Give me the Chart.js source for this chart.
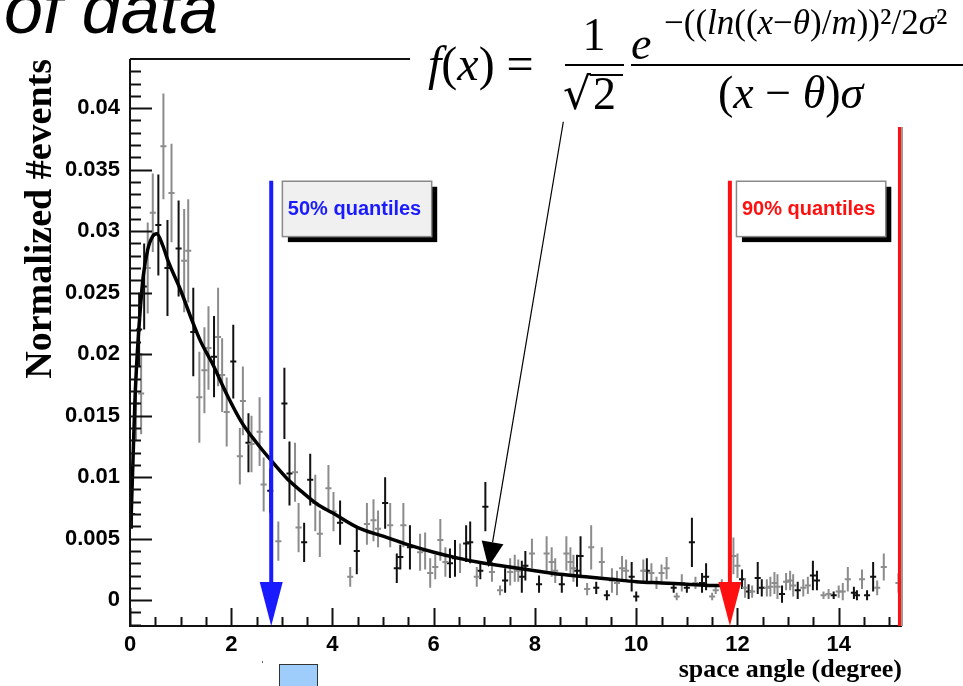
<!DOCTYPE html>
<html><head><meta charset="utf-8">
<script src="https://cdn.jsdelivr.net/npm/chart.js@4/dist/chart.umd.min.js"></script>
<style>html,body{margin:0;padding:0;background:#fff;overflow:hidden}#wrap{width:963px;height:686px;position:relative}</style>
</head><body><div id="wrap"><canvas id="c" width="963" height="686"></canvas></div>
<script>
// ---------- data ----------
const xTickValues = [0, 2, 4, 6, 8, 10, 12, 14];
const xTickLabels = ['0', '2', '4', '6', '8', '10', '12', '14'];
const yTickValues = [0, 0.005, 0.01, 0.015, 0.02, 0.025, 0.03, 0.035, 0.04];
const yTickLabels = ['0', '0.005', '0.01', '0.015', '0.02', '0.025', '0.03', '0.035', '0.04'];

const blackX = [0.04,0.18,0.28,0.56,0.74,0.96,1.25,1.66,2.04,2.34,2.77,3.05,3.15,3.44,3.56,4.15,4.48,5.04,5.27,5.34,5.53,6.32,6.42,6.64,6.72,6.92,7.02,7.41,7.74,7.81,8.08,8.53,8.83,8.9,9.21,9.42,9.91,10.0,10.21,10.74,11.0,11.1,11.3,11.38,12.09,12.22,12.4,12.48,12.88,13.19,13.49,13.57,13.9,14.3,14.36,14.56,14.68];
const blackY = [0.007,0.022,0.0255,0.0305,0.027,0.0286,0.0218,0.0198,0.0194,0.0128,0.0089,0.016,0.0103,0.0047,0.0098,0.0063,0.004,0.0079,0.0026,0.0035,0.0043,0.003,0.0034,0.0046,0.0047,0.0024,0.0076,0.0016,0.0019,0.0028,0.0013,0.0013,0.0024,0.0036,0.001,0.0004,0.0019,0.0003,0.0024,0.001,0.001,0.0047,0.0014,0.0019,0.0017,0.0007,0.0018,0.001,0.0005,0.0008,0.002,0.0016,0.0004,0.0006,0.0004,0.0004,0.0019];
const blackErr = [0.0012,0.003,0.0035,0.0041,0.0039,0.0039,0.0036,0.0033,0.003,0.0024,0.0018,0.0029,0.0026,0.0016,0.0021,0.0018,0.0019,0.0021,0.0012,0.001,0.0018,0.0012,0.0015,0.0015,0.0017,0.0007,0.002,0.001,0.0013,0.0012,0.0007,0.0007,0.0013,0.0016,0.0005,0.0004,0.0012,0.0004,0.001,0.0004,0.0004,0.002,0.0008,0.0011,0.0008,0.0006,0.0013,0.0007,0.0007,0.0007,0.0012,0.0008,0.0003,0.0005,0.0004,0.0004,0.0012];

const grayX = [0.12,0.22,0.35,0.45,0.66,0.82,1.07,1.15,1.37,1.47,1.55,1.74,1.82,1.91,2.17,2.23,2.4,2.56,2.64,2.93,3.26,3.33,3.66,3.75,3.92,4.02,4.35,4.68,4.81,4.9,5.14,5.4,5.73,5.83,5.93,6.03,6.13,6.23,6.52,6.85,7.15,7.31,7.51,7.6,7.67,7.94,8.23,8.33,8.4,8.62,8.7,8.76,9.03,9.11,9.32,9.52,9.62,9.72,9.8,10.14,10.3,10.4,10.5,10.6,10.8,10.9,11.17,11.5,11.57,11.69,11.92,12.0,12.15,12.29,12.58,12.65,12.73,12.79,12.96,13.04,13.1,13.3,13.39,13.7,13.8,14.0,14.08,14.18,14.46,14.76,14.89,15.18];
const grayY = [0.016,0.0168,0.027,0.0315,0.0369,0.0331,0.0276,0.0284,0.0165,0.0187,0.0205,0.0214,0.0183,0.0153,0.0117,0.0162,0.0127,0.0137,0.0094,0.0048,0.0104,0.0059,0.0079,0.0054,0.0091,0.0072,0.0019,0.0062,0.0065,0.0058,0.0061,0.0061,0.0039,0.004,0.0022,0.0027,0.0049,0.0031,0.0034,0.0019,0.0023,0.0008,0.0023,0.0026,0.0024,0.0038,0.0038,0.0031,0.0024,0.0038,0.0031,0.0026,0.0009,0.0043,0.0031,0.0016,0.0014,0.0026,0.0024,0.0024,0.0022,0.0014,0.0022,0.0026,0.0003,0.0014,0.0014,0.0003,0.0008,0.0012,0.0036,0.0028,0.001,0.0007,0.001,0.0011,0.0014,0.0011,0.0015,0.0016,0.0012,0.001,0.0012,0.0004,0.0005,0.0007,0.0007,0.0017,0.0017,0.001,0.0027,0.0014];
const grayErr = [0.003,0.0033,0.0037,0.0032,0.0043,0.004,0.0042,0.0042,0.0037,0.0035,0.0034,0.004,0.003,0.0028,0.0023,0.0028,0.0023,0.0028,0.0022,0.0016,0.0024,0.002,0.0023,0.0019,0.0019,0.0016,0.0008,0.0017,0.0017,0.0015,0.0018,0.0018,0.0015,0.0015,0.0012,0.001,0.0017,0.0012,0.0012,0.0008,0.0008,0.0004,0.0011,0.0011,0.0009,0.0012,0.0014,0.0012,0.001,0.0014,0.0012,0.0011,0.0005,0.0018,0.0012,0.001,0.001,0.001,0.0009,0.0009,0.0008,0.0005,0.0007,0.0009,0.0003,0.0007,0.0005,0.0003,0.0003,0.0005,0.0015,0.001,0.0008,0.0005,0.0007,0.0008,0.0009,0.001,0.0007,0.0008,0.0009,0.0007,0.0007,0.0003,0.0004,0.0005,0.0007,0.001,0.0008,0.0006,0.0011,0.0008];

const fitX = [0.02,0.06,0.1,0.15,0.2,0.26,0.35,0.45,0.53,0.65,0.75,1.0,1.22,1.4,1.62,1.94,2.2,2.5,2.8,3.1,3.4,3.7,4.0,4.5,5.0,5.5,6.0,6.5,7.0,7.5,8.0,8.5,9.0,9.5,10.0,10.5,11.0,11.5,11.9];
const fitY = [0.0065,0.0115,0.0165,0.0205,0.0235,0.0263,0.0285,0.0296,0.0298,0.0288,0.0276,0.0252,0.0228,0.021,0.0193,0.0165,0.0145,0.0128,0.0113,0.0099,0.0088,0.0078,0.0071,0.0059,0.0052,0.0045,0.0039,0.0034,0.0030,0.0027,0.0024,0.0021,0.0019,0.0017,0.0015,0.0014,0.0013,0.0012,0.0012];

const quantile50 = 2.79;
const quantile90 = 11.85;
const rightMarker = 15.2;
const arrowTopValue = 0.0341;
const binHalfWidth = 0.06;

// ---------- plugins ----------
const errorBars = {
  id: 'errorBars',
  beforeDatasetsDraw(chart) {
    const {ctx, chartArea: a, scales: {x: xs, y: ys}} = chart;
    ctx.save();
    ctx.beginPath(); ctx.rect(a.left, a.top, a.right - a.left, a.bottom - a.top); ctx.clip();
    chart.data.datasets.forEach(ds => {
      if (!ds.yErr) return;
      ctx.strokeStyle = ds.barColor; ctx.lineWidth = 2;
      ds.data.forEach((p, i) => {
        const px = xs.getPixelForValue(p.x), py = ys.getPixelForValue(p.y);
        const t = ys.getPixelForValue(p.y + ds.yErr[i]), b = ys.getPixelForValue(p.y - ds.yErr[i]);
        const l = xs.getPixelForValue(p.x - binHalfWidth), r = xs.getPixelForValue(p.x + binHalfWidth);
        ctx.beginPath();
        ctx.moveTo(px, t); ctx.lineTo(px, b);
        ctx.moveTo(l, py); ctx.lineTo(r, py);
        ctx.stroke();
      });
    });
    ctx.restore();
  }
};

const rootAxes = {
  id: 'rootAxes',
  afterDatasetsDraw(chart) {
    const {ctx, chartArea: a, scales: {x: xs, y: ys}} = chart;
    ctx.save();
    ctx.strokeStyle = '#111'; ctx.lineWidth = 2;
    for (let k = -2; k <= 43; k++) {
      const v = k / 1000;
      const py = Math.round(ys.getPixelForValue(v)) + 0.5;
      if (py < a.top || py > a.bottom) continue;
      const len = (k % 5 === 0) ? 22 : 11;
      ctx.beginPath(); ctx.moveTo(a.left, py); ctx.lineTo(a.left + len, py); ctx.stroke();
    }
    for (let k = 0; k <= 30; k++) {
      const v = k / 2;
      const px = Math.round(xs.getPixelForValue(v)) + 0.5;
      if (px > a.right) continue;
      const len = (k % 4 === 0) ? 18 : 9;
      ctx.beginPath(); ctx.moveTo(px, a.bottom); ctx.lineTo(px, a.bottom - len); ctx.stroke();
    }
    ctx.beginPath();
    ctx.moveTo(a.left, a.top); ctx.lineTo(a.left, a.bottom); ctx.lineTo(a.right, a.bottom);
    ctx.moveTo(a.left, a.top); ctx.lineTo(a.right, a.top);
    ctx.stroke();
    ctx.strokeStyle = '#9a9a9a';
    ctx.beginPath(); ctx.moveTo(a.right, a.top); ctx.lineTo(a.right, a.bottom); ctx.stroke();
    ctx.restore();
  }
};

function arrowDown(ctx, x, yTop, yTip, color) {
  ctx.strokeStyle = color; ctx.fillStyle = color; ctx.lineWidth = 4;
  ctx.beginPath(); ctx.moveTo(x, yTop); ctx.lineTo(x, yTip - 40); ctx.stroke();
  ctx.beginPath(); ctx.moveTo(x - 11.5, yTip - 44); ctx.lineTo(x + 11.5, yTip - 44); ctx.lineTo(x, yTip); ctx.closePath(); ctx.fill();
}

function textBox(ctx, x0, y0, x1, y1, fill, text, color) {
  ctx.fillStyle = '#000';
  ctx.fillRect(x0 + 6, y0 + 6, x1 - x0, y1 - y0);
  ctx.fillStyle = fill;
  ctx.fillRect(x0, y0, x1 - x0, y1 - y0);
  ctx.strokeStyle = '#8a8a8a'; ctx.lineWidth = 1.5;
  ctx.strokeRect(x0 + 0.5, y0 + 0.5, x1 - x0, y1 - y0);
  ctx.fillStyle = color;
  ctx.font = 'bold 20px "Liberation Sans", Arial, sans-serif';
  ctx.textAlign = 'left'; ctx.textBaseline = 'middle';
  ctx.fillText(text, x0 + 6, (y0 + y1) / 2 + 1);
}

function runs(ctx, x, y, parts) {
  for (const [t, f] of parts) { ctx.font = f; ctx.fillText(t, x, y); x += ctx.measureText(t).width; }
  return x;
}

const annotations = {
  id: 'annotations',
  afterDraw(chart) {
    const {ctx, chartArea: a, scales: {x: xs, y: ys}} = chart;
    ctx.save();
    const yTop = ys.getPixelForValue(arrowTopValue);
    arrowDown(ctx, xs.getPixelForValue(quantile50), yTop, a.bottom, '#1a1aff');
    arrowDown(ctx, xs.getPixelForValue(quantile90), yTop, a.bottom, '#ff1010');
    ctx.strokeStyle = '#ff1010'; ctx.lineWidth = 3;
    const rx = xs.getPixelForValue(rightMarker);
    ctx.beginPath(); ctx.moveTo(rx, a.top); ctx.lineTo(rx, a.bottom); ctx.stroke();

    textBox(ctx, xs.getPixelForValue(3.0), ys.getPixelForValue(0.0341), xs.getPixelForValue(5.95), ys.getPixelForValue(0.0296), '#f0f0f0', '50% quantiles', '#1a1aff');
    textBox(ctx, xs.getPixelForValue(11.97), ys.getPixelForValue(0.0341), xs.getPixelForValue(14.92), ys.getPixelForValue(0.0296), '#ffffff', '90% quantiles', '#ff1010');

    // formula panel
    ctx.fillStyle = '#fff';
    ctx.fillRect(410, 0, 553, 127);
    ctx.fillStyle = '#000'; ctx.textAlign = 'left'; ctx.textBaseline = 'alphabetic';
    const I = s => 'italic ' + s + 'px "Liberation Serif", "DejaVu Serif", serif';
    const R = s => s + 'px "Liberation Serif", "DejaVu Serif", serif';
    runs(ctx, 428, 80, [['f', I(48)], ['(', R(48)], ['x', I(48)], [')', R(48)], [' = ', R(48)]]);
    ctx.font = R(46); ctx.textAlign = 'center';
    ctx.fillText('1', 594, 50);
    ctx.textAlign = 'left';
    ctx.font = '44px "DejaVu Serif", serif';
    ctx.fillText('\u221A', 563, 109);
    ctx.font = R(46); ctx.fillText('2', 593, 109);
    ctx.lineWidth = 2; ctx.strokeStyle = '#000';
    ctx.beginPath(); ctx.moveTo(590, 75); ctx.lineTo(623, 75); ctx.stroke();
    ctx.beginPath(); ctx.moveTo(565, 65); ctx.lineTo(624, 65); ctx.stroke();
    ctx.beginPath(); ctx.moveTo(631, 65); ctx.lineTo(963, 65); ctx.stroke();
    runs(ctx, 631, 59, [['e', I(46)]]);
    runs(ctx, 664, 34, [['\u2212((', R(35)], ['ln', I(35)], ['((', R(35)], ['x', I(35)], ['\u2212', R(35)], ['\u03B8', I(35)], [')/', R(35)], ['m', I(35)], ['))', R(35)], ['\u00B2', R(38)], ['/2', R(35)], ['\u03C3', I(35)], ['\u00B2', R(38)]]);
    runs(ctx, 718, 108, [['(', R(46)], ['x', I(46)], [' \u2212 ', R(46)], ['\u03B8', I(46)], [')', R(46)], ['\u03C3', I(46)]]);

    // thin arrow pointing at the fit
    const sx = xs.getPixelForValue(8.56), sy = ys.getPixelForValue(0.0389);
    const tx = xs.getPixelForValue(7.08), ty = ys.getPixelForValue(0.0027);
    const dx = tx - sx, dy = ty - sy, L = Math.hypot(dx, dy), ux = dx / L, uy = dy / L;
    const bx = tx - 25 * ux, by = ty - 25 * uy;
    ctx.lineWidth = 1.2; ctx.strokeStyle = '#000'; ctx.fillStyle = '#000';
    ctx.beginPath(); ctx.moveTo(sx, sy); ctx.lineTo(bx, by); ctx.stroke();
    ctx.beginPath(); ctx.moveTo(tx, ty); ctx.lineTo(bx + 11 * uy, by - 11 * ux); ctx.lineTo(bx - 11 * uy, by + 11 * ux); ctx.closePath(); ctx.fill();

    // slide fragments
    ctx.fillStyle = '#000'; ctx.textAlign = 'left'; ctx.textBaseline = 'alphabetic';
    ctx.font = 'italic 70px "Liberation Sans", Arial, sans-serif';
    ctx.fillText('of data', 4, 33);
    ctx.fillStyle = '#9fcdfb'; ctx.fillRect(279, 664, 39, 24);
    ctx.strokeStyle = '#333'; ctx.lineWidth = 1; ctx.strokeRect(279.5, 664.5, 38, 24);
    ctx.fillStyle = '#666'; ctx.fillRect(262, 661, 1, 2);
    ctx.restore();
  }
};

// ---------- chart ----------
const ctx = document.getElementById('c').getContext('2d');
new Chart(ctx, {
  type: 'scatter',
  data: {
    datasets: [
      { label: 'fit', data: fitX.map((x, i) => ({x, y: fitY[i]})), showLine: true, borderColor: '#000', borderWidth: 3.5, pointRadius: 0, cubicInterpolationMode: 'monotone', fill: false },
      { label: 'sample A', data: blackX.map((x, i) => ({x, y: blackY[i]})), yErr: blackErr, barColor: '#111', pointRadius: 0 },
      { label: 'sample B', data: grayX.map((x, i) => ({x, y: grayY[i]})), yErr: grayErr, barColor: '#8c8c8c', pointRadius: 0 }
    ]
  },
  options: {
    responsive: false, animation: false, devicePixelRatio: 1,
    layout: { padding: { top: 59, right: 61, left: 0, bottom: 0 } },
    plugins: { legend: { display: false }, tooltip: { enabled: false } },
    scales: {
      x: {
        type: 'linear', min: 0, max: 15.25,
        grid: { display: false, drawTicks: false }, border: { display: false },
        afterBuildTicks: s => { s.ticks = xTickValues.map(v => ({value: v})); },
        afterFit: s => { s.height = 60; },
        ticks: { padding: 6, autoSkip: false, maxRotation: 0, color: '#000',
          font: { family: '"Liberation Sans", Arial, sans-serif', weight: 'bold', size: 22 },
          callback: (v, i) => xTickLabels[i] },
        title: { display: true, text: 'space angle (degree)', align: 'end', color: '#000',
          font: { family: '"Liberation Serif", "Times New Roman", serif', weight: 'bold', size: 26 },
          padding: { top: 0, bottom: 0 } }
      },
      y: {
        type: 'linear', min: -0.0021, max: 0.044,
        grid: { display: false, drawTicks: false }, border: { display: false },
        afterBuildTicks: s => { s.ticks = yTickValues.map(v => ({value: v})); },
        afterFit: s => { s.width = 130; },
        ticks: { padding: 10, autoSkip: false, color: '#000',
          font: { family: '"Liberation Sans", Arial, sans-serif', weight: 'bold', size: 22 },
          callback: (v, i) => yTickLabels[i] },
        title: { display: true, text: 'Normalized #events', align: 'end', color: '#000',
          font: { family: '"Liberation Serif", "Times New Roman", serif', weight: 'bold', size: 38 },
          padding: { top: 18, bottom: 0 } }
      }
    }
  },
  plugins: [errorBars, rootAxes, annotations]
});
</script>
</body></html>
